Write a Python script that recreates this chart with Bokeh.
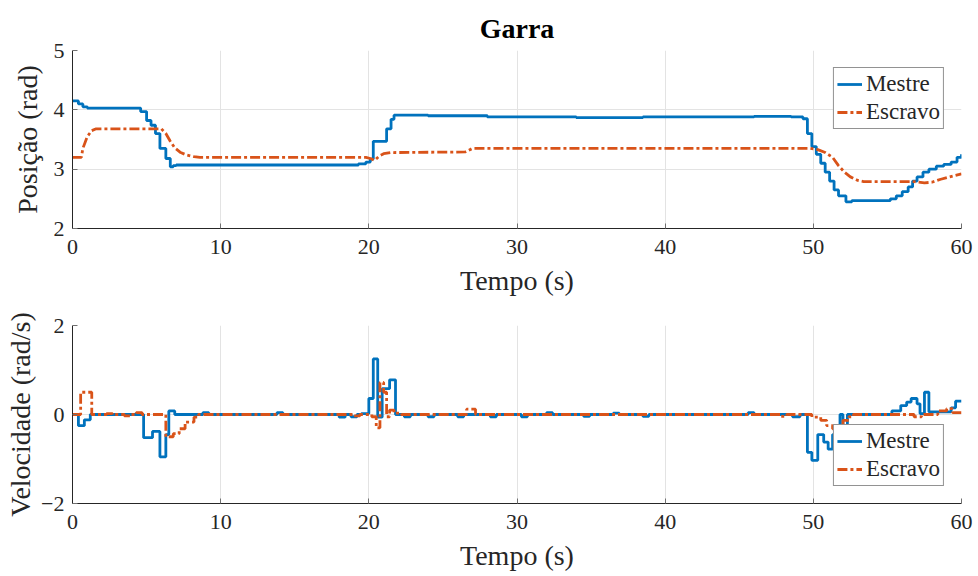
from bokeh.plotting import figure
from bokeh.layouts import column
from bokeh.models import Range1d, FixedTicker
from bokeh.embed import file_html
from bokeh.resources import INLINE

# ---------------- data ----------------
pos_mestre_t = [0, 0.4, 0.7, 1.0, 4.6, 5.0, 5.3, 5.6, 5.9, 6.3, 6.6, 6.8, 7.0, 19.3, 19.8, 20.1, 20.3,
                21.2, 21.5, 21.7, 24.0, 28.0, 31.0, 34.0, 38.5, 41.0, 46.0, 48.5, 49.3, 49.6, 49.9,
                50.2, 50.5, 50.8, 51.1, 51.4, 51.7, 52.2, 52.6, 55.2, 55.6, 56.0, 56.4, 56.7, 57.0,
                57.4, 57.8, 58.3, 58.8, 59.3, 59.7, 60]
pos_mestre = [4.15, 4.1, 4.05, 4.03, 3.97, 3.82, 3.74, 3.6, 3.35, 3.18, 3.04, 3.06, 3.07, 3.09, 3.12,
              3.17, 3.47, 3.68, 3.84, 3.91, 3.9, 3.88, 3.88, 3.87, 3.88, 3.88, 3.89, 3.88, 3.85, 3.6,
              3.38, 3.25, 3.1, 2.95, 2.8, 2.65, 2.55, 2.45, 2.47, 2.5, 2.55, 2.62, 2.7, 2.8, 2.87,
              2.95, 3.0, 3.05, 3.08, 3.12, 3.2, 3.25]

pos_escravo_t = [0, 0.6, 0.7, 1.0, 1.3, 1.6, 6.0, 6.3, 6.6, 6.9, 7.3, 7.7, 8.2, 8.6, 19.8, 20.1, 20.4,
                 20.7, 21.0, 21.5, 26.5, 27.0, 49.8, 50.3, 50.8, 51.3, 51.7, 52.1, 52.5, 53.0, 53.4,
                 56.8, 57.5, 58.0, 58.6, 59.2, 60]
pos_escravo = [3.2, 3.2, 3.35, 3.55, 3.65, 3.68, 3.68, 3.6, 3.47, 3.36, 3.28, 3.24, 3.21, 3.2, 3.2,
               3.18, 3.15, 3.22, 3.26, 3.28, 3.29, 3.35, 3.35, 3.33, 3.28, 3.2, 3.06, 2.95, 2.87,
               2.81, 2.79, 2.79, 2.77, 2.78, 2.83, 2.87, 2.92]

vel_mestre_t = [0, 0.4, 0.8, 1.2, 4.8, 5.4, 5.9, 6.3, 6.5, 6.9, 8.8, 9.2, 13.8, 14.2, 18.0, 18.4, 18.8,
                19.2, 19.5, 20.0, 20.3, 20.6, 20.9, 21.4, 21.8, 22.4, 22.8, 24.0, 24.4, 26.0, 26.4,
                28.2, 28.6, 30.3, 30.7, 32.0, 32.4, 34.5, 34.9, 36.5, 36.9, 38.5, 38.9, 45.6, 46.0,
                48.6, 49.1, 49.6, 49.9, 50.3, 50.7, 51.0, 51.3, 51.6, 51.8, 52.0, 52.3, 55.3, 55.9,
                56.3, 56.6, 57.0, 57.2, 57.5, 57.8, 59.3, 59.6, 60]
vel_mestre = [0, -0.25, -0.12, 0, -0.52, -0.38, -0.95, -0.45, 0.08, 0, 0.04, 0, 0.04, 0, -0.06, 0,
              -0.05, 0, 0.02, 0.36, 1.25, -0.06, 0.58, 0.78, 0, -0.05, 0, -0.05, 0, -0.05, 0,
              -0.05, 0, -0.05, 0, 0.04, 0, -0.04, 0, 0.03, 0, -0.04, 0, 0.04, 0,
              -0.05, 0, -0.85, -1.03, -0.45, -0.62, -0.78, -0.45, -0.28, 0, -0.35, 0, 0.08, 0.2,
              0.28, 0.36, 0.24, 0.02, 0.5, 0.06, 0.15, 0.3, 0.3]

vel_escravo_t = [0, 0.55, 1.3, 2.3, 2.7, 3.5, 3.9, 4.3, 4.7, 6.3, 6.8, 7.2, 7.6, 8.2, 8.5, 19.0, 19.4,
                 20.2, 20.5, 20.75, 21.0, 21.2, 21.4, 21.7, 22.2, 26.6, 27.2, 47.8, 48.2, 49.9, 50.5,
                 50.9, 51.3, 52.0, 52.4, 52.7, 56.8, 57.3, 58.4, 59.0, 59.4, 60]
vel_escravo = [0, 0.5, 0, 0.02, 0, -0.03, 0, 0.04, 0, -0.5, -0.43, -0.32, -0.17, -0.06, 0, -0.03, 0,
               -0.05, -0.3, 0.72, 0.5, -0.05, 0.1, 0.03, 0, 0.12, 0, -0.04, 0, -0.06, -0.13,
               -0.25, -0.32, -0.13, -0.05, 0, -0.05, 0, 0.08, 0.13, 0.04, 0.04]

x_ticks = [0, 10, 20, 30, 40, 50, 60]
pos_ticks = [2, 3, 4, 5]
vel_ticks = [-2, 0, 2]

FONT = "Liberation Serif"
BLUE = "#0072BD"
ORANGE = "#D95319"
TXT = "#262626"
DASH = "10 3 3 3"
LW = 2.8


def style(p, xticks, yticks, ylabel, ylab_standoff):
    p.xaxis.ticker = FixedTicker(ticks=xticks)
    p.yaxis.ticker = FixedTicker(ticks=yticks)
    p.xaxis.axis_label = "Tempo (s)"
    p.yaxis.axis_label = ylabel
    for ax in p.axis:
        ax.major_label_text_font = FONT
        ax.major_label_text_font_size = "22px"
        ax.major_label_text_color = TXT
        ax.axis_label_text_font = FONT
        ax.axis_label_text_font_size = "28px"
        ax.axis_label_text_font_style = "normal"
        ax.axis_label_text_color = TXT
        ax.major_tick_in = 5
        ax.major_tick_out = 0
        ax.minor_tick_in = 0
        ax.minor_tick_out = 0
        ax.axis_line_color = TXT
        ax.major_tick_line_color = "#707070"
        ax.major_label_standoff = 8
    p.xaxis.major_label_standoff = 11
    p.xaxis.axis_label_standoff = 8
    p.yaxis.axis_label_standoff = ylab_standoff
    p.grid.grid_line_color = "#e3e3e3"
    p.grid.grid_line_width = 1
    p.outline_line_color = None
    p.background_fill_color = "white"
    p.border_fill_color = "white"


def style_legend(p, loc):
    lg = p.legend[0]
    lg.location = loc
    lg.margin = 17
    lg.label_text_font = FONT
    lg.label_text_font_size = "23px"
    lg.label_text_color = TXT
    lg.border_line_color = TXT
    lg.border_line_width = 1
    lg.background_fill_alpha = 1
    lg.padding = 3
    lg.spacing = 2
    lg.glyph_width = 25
    lg.glyph_height = 24
    lg.label_standoff = 4


p1 = figure(width=978, height=300, output_backend="svg", toolbar_location=None,
            x_range=Range1d(0, 60), y_range=Range1d(2, 5),
            min_border_left=72, min_border_right=17, min_border_top=50, min_border_bottom=72,
            title="Garra")
p1.title.align = "center"
p1.title.text_font = FONT
p1.title.text_font_size = "28px"
p1.title.text_font_style = "bold"
p1.title.text_color = "black"
p1.title.standoff = 14
p1.step(pos_mestre_t, pos_mestre, mode="after", line_width=LW, color=BLUE, legend_label="Mestre")
p1.line(pos_escravo_t, pos_escravo, line_width=LW, color=ORANGE, line_dash=DASH,
        legend_label="Escravo")
style(p1, x_ticks, pos_ticks, "Posição (rad)", 8)
style_legend(p1, "top_right")

p2 = figure(width=978, height=276, output_backend="svg", toolbar_location=None,
            x_range=Range1d(0, 60), y_range=Range1d(-2, 2),
            min_border_left=72, min_border_right=17, min_border_top=25, min_border_bottom=73)
p2.step(vel_mestre_t, vel_mestre, mode="after", line_width=LW, color=BLUE, legend_label="Mestre")
p2.step(vel_escravo_t, vel_escravo, mode="after", line_width=LW, color=ORANGE, line_dash=DASH,
        legend_label="Escravo")
style(p2, x_ticks, vel_ticks, "Velocidade (rad/s)", 2)
style_legend(p2, "bottom_right")

layout = column(p1, p2, spacing=0)
open("out.html", "w").write(file_html(layout, INLINE))
